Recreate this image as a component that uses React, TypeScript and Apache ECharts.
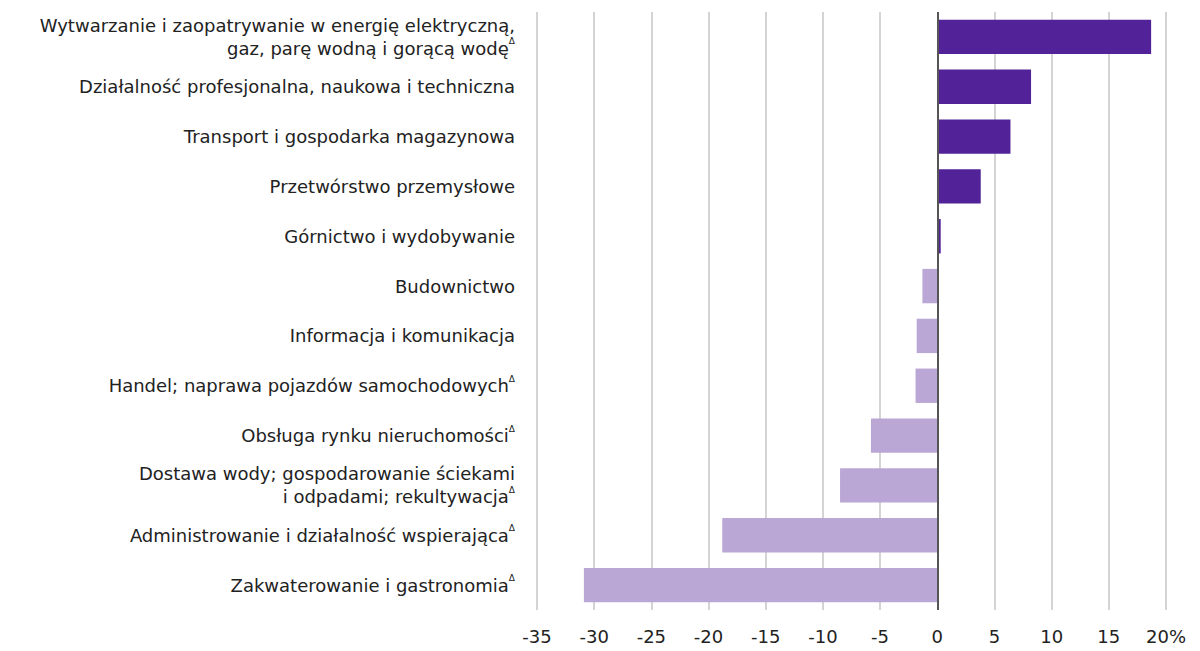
import React, { useEffect, useRef } from "react";
import * as echarts from "echarts";

const categories = [
  "Wytwarzanie i zaopatrywanie w energię elektryczną,\ngaz, parę wodną i gorącą wodę{sup|Δ}",
  "Działalność profesjonalna, naukowa i techniczna",
  "Transport i gospodarka magazynowa",
  "Przetwórstwo przemysłowe",
  "Górnictwo i wydobywanie",
  "Budownictwo",
  "Informacja i komunikacja",
  "Handel; naprawa pojazdów samochodowych{sup|Δ}",
  "Obsługa rynku nieruchomości{sup|Δ}",
  "Dostawa wody; gospodarowanie ściekami\ni odpadami; rekultywacja{sup|Δ}",
  "Administrowanie i działalność wspierająca{sup|Δ}",
  "Zakwaterowanie i gastronomia{sup|Δ}",
];

const values = [18.7, 8.2, 6.4, 3.8, 0.3, -1.3, -1.8, -1.9, -5.8, -8.5, -18.8, -30.9];

const xMin = -35;
const xMax = 20;
const xInterval = 5;

const POS_COLOR = "#522398";
const NEG_COLOR = "#BAA7D5";
const FONT = "DejaVu Sans";

export default function App() {
  const ref = useRef<HTMLDivElement>(null);

  useEffect(() => {
    if (!ref.current) return;
    const chart = echarts.init(ref.current, undefined, { renderer: "svg" });
    chart.setOption({
      animation: false,
      grid: { left: 537, right: 34, top: 12, bottom: 41, containLabel: false },
      xAxis: {
        type: "value",
        min: xMin,
        max: xMax,
        interval: xInterval,
        axisLine: { show: false },
        axisTick: { show: false },
        splitLine: { show: true, lineStyle: { color: "#d4d4d4", width: 2 } },
        axisLabel: {
          color: "#222",
          fontFamily: FONT,
          fontSize: 18,
          margin: 17,
          formatter: (v: number) => (v === xMax ? `${v}%` : `${v}`),
        },
      },
      yAxis: {
        type: "category",
        inverse: true,
        data: categories,
        axisLine: { show: false, onZero: false },
        axisTick: { show: false },
        splitLine: { show: false },
        axisLabel: {
          color: "#222",
          fontFamily: FONT,
          fontSize: 18,
          margin: 22,
          lineHeight: 23,
          align: "right",
          rich: {
            sup: { fontSize: 9, fontFamily: FONT, color: "#222", verticalAlign: "top", lineHeight: 23 },
          },
        },
      },
      series: [
        {
          type: "bar",
          data: values.map((v) => ({
            value: v,
            itemStyle: { color: v >= 0 ? POS_COLOR : NEG_COLOR },
          })),
          barCategoryGap: "31%",
          markLine: {
            silent: true,
            symbol: "none",
            label: { show: false },
            lineStyle: { color: "#555", width: 2, type: "solid" },
            data: [{ xAxis: 0 }],
          },
        },
      ],
    });
    return () => chart.dispose();
  }, []);

  return (
    <div
      ref={ref}
      style={{ position: "fixed", left: 0, top: 0, width: 1200, height: 651, background: "#fff" }}
    />
  );
}
